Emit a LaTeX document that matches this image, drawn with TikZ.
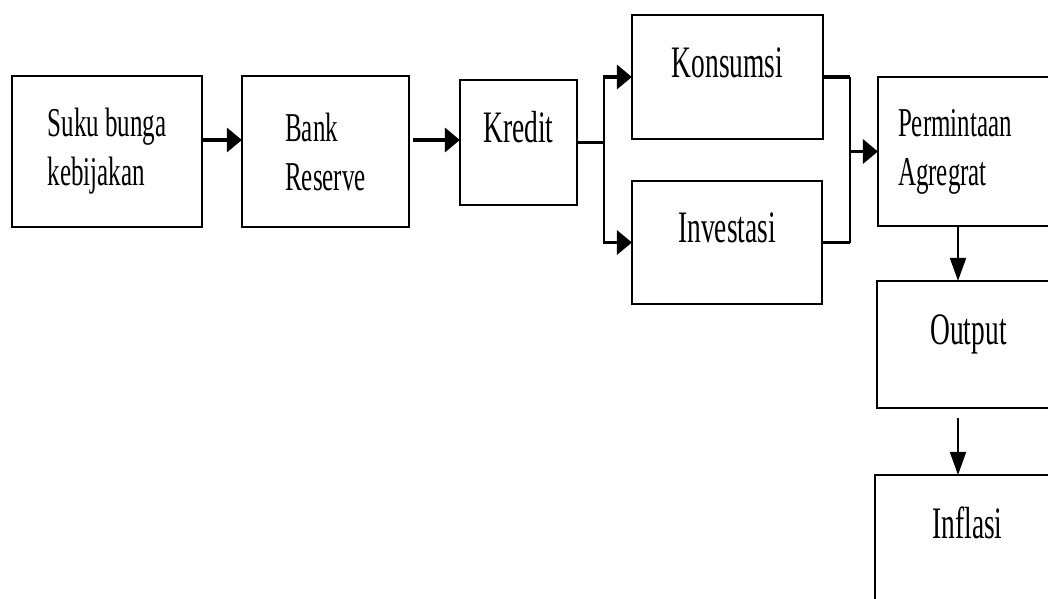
\documentclass[tikz,border=0pt]{standalone}
\usepackage{fontspec}
\setmainfont{Liberation Serif}[FakeStretch=0.61]
\usetikzlibrary{arrows.meta}

\tikzset{
  box/.style={draw=black, line width=2.2pt, fill=white, inner sep=0pt},
  twoline/.style={box, align=left, font=\fontsize{41}{49}\selectfont},
  oneline/.style={box, text height=0pt, text depth=0pt, font=\fontsize{45}{54}\selectfont},
  hline/.style={line width=3.4pt},
  vline/.style={line width=2pt},
  harrow/.style={hline, -{Triangle[length=15pt,width=24pt]}, shorten >=-1pt},
  varrow/.style={vline, -{Triangle[length=23pt,width=16pt]}, shorten >=-1pt},
}

\begin{document}
\begin{tikzpicture}[x=1pt, y=-1pt]
  \useasboundingbox (0,0) rectangle (1048,598);
  \clip (0,0) rectangle (1048,598);

  % transmission chain, left to right
  \node[twoline, minimum width=190pt, minimum height=151pt] (suku) at (107,151.5) {Suku bunga\\kebijakan};
  \node[twoline, minimum width=167pt, minimum height=151pt] (bank) at (325.5,151.5) {Bank\\Reserve};
  \node[oneline, minimum width=117pt, minimum height=125pt] (kredit) at (518.5,142.5) {Kredit};
  \node[oneline, minimum width=191pt, minimum height=124pt] (kons) at (727.5,77) {Konsumsi};
  \node[oneline, minimum width=190pt, minimum height=123pt] (inv) at (727,242.5) {Investasi};
  \node[box, align=left, font=\fontsize{41}{49}\selectfont, text width=142pt, inner xsep=20pt,
        minimum width=182pt, minimum height=149pt] (perm) at (969,151.5) {Permintaan\\Agregrat};
  \node[oneline, minimum width=183pt, minimum height=127pt] (out) at (968.5,344.5) {Output};
  \node[oneline, minimum width=185pt, minimum height=126pt] (inf) at (967.5,538) {Inflasi};

  % helper points for the connectors
  \coordinate (split) at (604,142.5);
  \coordinate (merge) at (850,151.5);
  \coordinate (down) at (958,0);

  % horizontal arrows
  \draw[harrow] ([yshift=11.5pt]suku.east) -- ([yshift=11.5pt]suku.east -| bank.west);
  \draw[harrow] ([xshift=3pt,yshift=11.5pt]bank.east) -- ([yshift=11.5pt]bank.east -| kredit.west);

  % split from Kredit into Konsumsi and Investasi
  \draw[hline] (kredit.east) -- (split);
  \draw[vline] (split |- kons.west) -- (split |- inv.west);
  \draw[harrow] ([xshift=-1pt]split |- kons.west) -- (kons.west);
  \draw[harrow] ([xshift=-1pt]split |- inv.west) -- (inv.west);

  % merge into Permintaan Agregrat
  \draw[hline] (kons.east) -- (merge |- kons.east);
  \draw[hline] (inv.east) -- (merge |- inv.east);
  \draw[vline] (merge |- kons.east) -- (merge |- inv.east);
  \draw[harrow] (merge) -- (perm.west);

  % vertical arrows
  \draw[varrow] (down |- perm.south) -- (down |- out.north);
  \draw[varrow] ([yshift=-9pt]down |- out.south) -- (down |- inf.north);
\end{tikzpicture}
\end{document}
